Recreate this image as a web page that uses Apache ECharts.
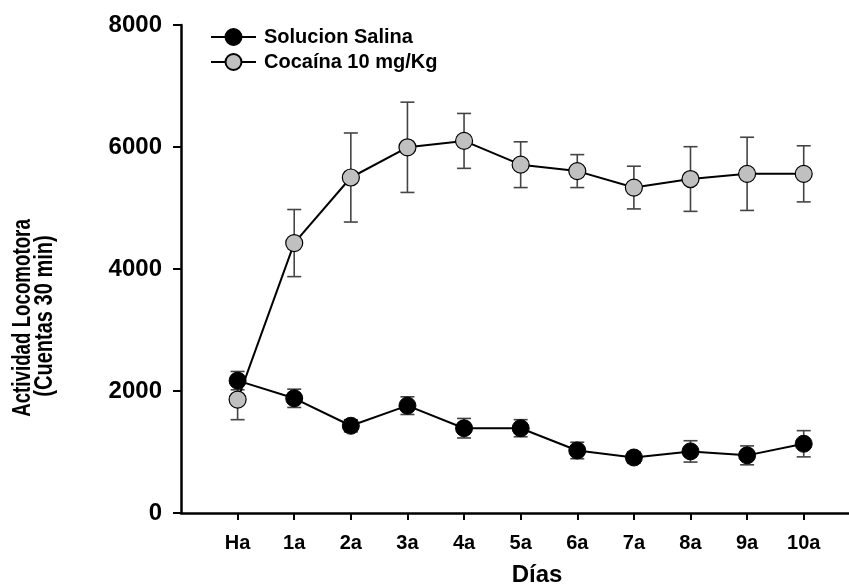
<!DOCTYPE html>
<html>
<head>
<meta charset="utf-8">
<script src="https://cdn.jsdelivr.net/npm/echarts@6/dist/echarts.min.js"></script>
<style>
html,body{margin:0;padding:0;background:#fff;}
#chart{width:849px;height:584px;}
</style>
</head>
<body>
<div id="chart"></div>
<script>
const days = ['Ha', '1a', '2a', '3a', '4a', '5a', '6a', '7a', '8a', '9a', '10a'];
const salinaMean = [2170, 1880, 1430, 1760, 1390, 1390, 1025, 910, 1010, 945, 1135];
const salinaErr = [150, 150, 100, 145, 160, 140, 135, 90, 175, 155, 215];
const cocaMean = [1860, 4425, 5500, 5995, 6100, 5710, 5605, 5335, 5475, 5560, 5560];
const cocaErr = [330, 550, 730, 740, 450, 375, 270, 350, 530, 600, 460];
const yTicks = [0, 2000, 4000, 6000, 8000];
const seriesNames = ['Solucion Salina', 'Cocaína 10 mg/Kg'];

const FONT = '"Liberation Sans", Arial, sans-serif';
const chart = echarts.init(document.getElementById('chart'), null, {renderer: 'canvas'});

function pts(mean) { return mean.map((v, i) => [i, v]); }
function errRows(mean, err) { return mean.map((v, i) => [i, v, err[i]]); }

function errRender(params, api) {
  const x = api.value(0), m = api.value(1), e = api.value(2);
  const top = api.coord([x, m + e]);
  const bot = api.coord([x, m - e]);
  const hw = 7;
  const st = {stroke: '#444', lineWidth: 1.6};
  return {
    type: 'group',
    children: [
      {type: 'line', shape: {x1: top[0], y1: top[1], x2: bot[0], y2: bot[1]}, style: st},
      {type: 'line', shape: {x1: top[0] - hw, y1: top[1], x2: top[0] + hw, y2: top[1]}, style: st},
      {type: 'line', shape: {x1: bot[0] - hw, y1: bot[1], x2: bot[0] + hw, y2: bot[1]}, style: st}
    ]
  };
}

const option = {
  animation: false,
  backgroundColor: '#fff',
  grid: {left: 181, right: 0, top: 25, bottom: 71, containLabel: false, outerBoundsMode: 'none'},
  legend: {
    data: seriesNames,
    orient: 'vertical',
    left: 205,
    top: 22,
    itemWidth: 45,
    itemHeight: 20,
    itemGap: 5,
    textStyle: {fontSize: 20, fontWeight: 'bold', fontFamily: FONT, color: '#000', padding: [0, 0, 0, 3]}
  },
  xAxis: {
    type: 'value',
    min: -1,
    max: 10.8,
    name: 'Días',
    nameLocation: 'middle',
    nameGap: 50,
    nameTextStyle: {fontSize: 24, fontWeight: 'bold', fontFamily: FONT, color: '#000', padding: [0, 0, 0, 44]},
    axisLine: {onZero: false, lineStyle: {color: '#000', width: 2.5}},
    axisTick: {show: true, length: 7, lineStyle: {color: '#000', width: 2}, customValues: days.map((d, i) => i)},
    axisLabel: {
      customValues: days.map((d, i) => i),
      formatter: v => days[v] !== undefined ? days[v] : '',
      fontSize: 20, fontWeight: 'bold', fontFamily: FONT, color: '#000', margin: 20
    },
    splitLine: {show: false}
  },
  yAxis: {
    type: 'value',
    min: 0,
    max: 8000,
    interval: 2000,
    axisLine: {show: true, onZero: false, lineStyle: {color: '#000', width: 2.5}},
    axisTick: {show: true, length: 8, lineStyle: {color: '#000', width: 2}},
    axisLabel: {
      formatter: v => yTicks.indexOf(v) >= 0 ? String(v) : '',
      fontSize: 24, fontWeight: 'bold', fontFamily: FONT, color: '#000', margin: 19
    },
    splitLine: {show: false}
  },
  graphic: [
    {type: 'text', x: 23, y: 318, rotation: Math.PI / 2, scaleX: 0.72,
     style: {text: 'Actividad Locomotora', font: 'bold 26px ' + FONT, textAlign: 'center', textVerticalAlign: 'middle', fill: '#000'}},
    {type: 'text', x: 45, y: 316, rotation: Math.PI / 2, scaleX: 0.77,
     style: {text: '(Cuentas 30 min)', font: 'bold 26px ' + FONT, textAlign: 'center', textVerticalAlign: 'middle', fill: '#000'}}
  ],
  series: [
    {type: 'custom', name: 'errSal', renderItem: errRender, data: errRows(salinaMean, salinaErr), z: 1, silent: true},
    {type: 'custom', name: 'errCoc', renderItem: errRender, data: errRows(cocaMean, cocaErr), z: 1, silent: true},
    {
      type: 'line', name: seriesNames[0], data: pts(salinaMean), z: 3,
      symbol: 'circle', symbolSize: 17,
      lineStyle: {color: '#000', width: 2},
      itemStyle: {color: '#000', borderColor: '#000', borderWidth: 1}
    },
    {
      type: 'line', name: seriesNames[1], data: pts(cocaMean), z: 3,
      symbol: 'circle', symbolSize: 17,
      lineStyle: {color: '#000', width: 2},
      itemStyle: {color: '#c0c0c0', borderColor: '#000', borderWidth: 1.2}
    }
  ]
};
chart.setOption(option);
</script>
</body>
</html>
